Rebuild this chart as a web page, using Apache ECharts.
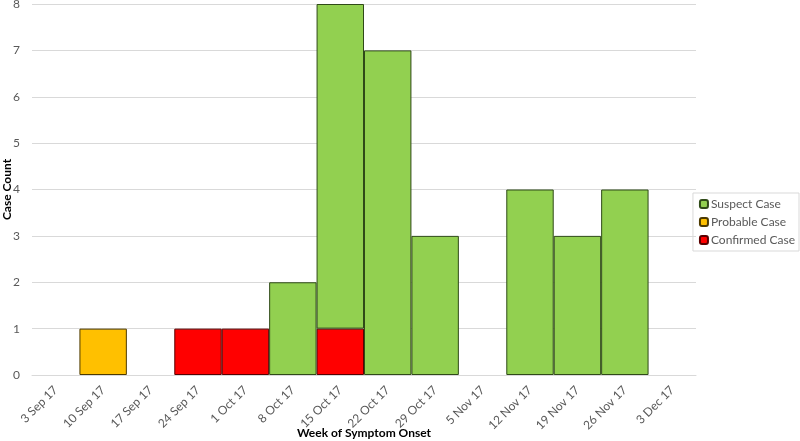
<!DOCTYPE html>
<html lang="en">
<head>
    <meta charset="utf-8">
    <title>Week of Symptom Onset</title>
    <script src="https://cdn.jsdelivr.net/npm/echarts@6/dist/echarts.min.js"></script>
    <style>
        html, body { margin: 0; padding: 0; background: #fff; }
        #chart { width: 800px; height: 441px; }
    </style>
</head>
<body>
<div id="chart"></div>
<script>
    // 每周病例数
    const weeks = ['3 Sep 17', '10 Sep 17', '17 Sep 17', '24 Sep 17', '1 Oct 17', '8 Oct 17', '15 Oct 17',
        '22 Oct 17', '29 Oct 17', '5 Nov 17', '12 Nov 17', '19 Nov 17', '26 Nov 17', '3 Dec 17'];
    const confirmed = [0, 0, 0, 1, 1, 0, 1, 0, 0, 0, 0, 0, 0, 0];
    const probable = [0, 1, 0, 0, 0, 0, 0, 0, 0, 0, 0, 0, 0, 0];
    const suspect = [0, 0, 0, 0, 0, 2, 7, 7, 3, 0, 4, 3, 4, 0];
    const yTicks = [0, 1, 2, 3, 4, 5, 6, 7, 8];

    const font = 'Lato';

    // 0 不画柱子
    function toBars(arr) {
        return arr.map(v => v === 0 ? '-' : v);
    }

    function makeSeries(name, data, color, border) {
        return {
            name: name,
            type: 'bar',
            stack: 'cases',
            data: toBars(data),
            barWidth: '100%',
            barCategoryGap: 0,
            itemStyle: {
                color: color,
                borderColor: border,
                borderWidth: 1
            },
            emphasis: { disabled: true }
        };
    }

    const chart = echarts.init(document.getElementById('chart'));
    chart.setOption({
        animation: false,
        textStyle: { fontFamily: font },
        grid: {
            left: 32,
            right: 104,
            top: 4,
            bottom: 66,
            containLabel: false,
            outerBoundsMode: 'none'
        },
        legend: {
            orient: 'vertical',
            right: 1,
            top: 193,
            data: ['Suspect Case', 'Probable Case', 'Confirmed Case'],
            itemWidth: 8,
            itemHeight: 8,
            itemGap: 6,
            padding: [5, 4, 5, 6],
            borderColor: '#d9d9d9',
            borderWidth: 1,
            textStyle: { fontFamily: font, fontSize: 12, color: '#595959', padding: [0, 0, 0, -2] }
        },
        xAxis: {
            type: 'category',
            data: weeks,
            boundaryGap: true,
            axisTick: { show: false },
            axisLine: { lineStyle: { color: '#d9d9d9' } },
            axisLabel: {
                interval: 0,
                rotate: 45,
                margin: 13,
                color: '#595959',
                fontSize: 12,
                fontFamily: font
            },
            name: 'Week of Symptom Onset',
            nameLocation: 'middle',
            nameGap: 52,
            nameMoveOverlap: false,
            nameTextStyle: { fontFamily: font, fontWeight: 'bold', fontSize: 12, color: '#000' }
        },
        yAxis: {
            type: 'value',
            min: yTicks[0],
            max: yTicks[yTicks.length - 1],
            interval: 1,
            axisLine: { show: false },
            axisTick: { show: false },
            splitLine: { lineStyle: { color: '#d9d9d9' } },
            axisLabel: { color: '#595959', fontSize: 12, margin: 12, fontFamily: font },
            name: 'Case Count',
            nameLocation: 'middle',
            nameGap: 19,
            nameRotate: 90,
            nameMoveOverlap: false,
            nameTextStyle: { fontFamily: font, fontWeight: 'bold', fontSize: 12, color: '#000' }
        },
        series: [
            makeSeries('Confirmed Case', confirmed, '#ff0000', '#5a0000'),
            makeSeries('Probable Case', probable, '#ffc000', '#4d3a00'),
            makeSeries('Suspect Case', suspect, '#92d050', '#2f4a18')
        ]
    });
</script>
</body>
</html>
